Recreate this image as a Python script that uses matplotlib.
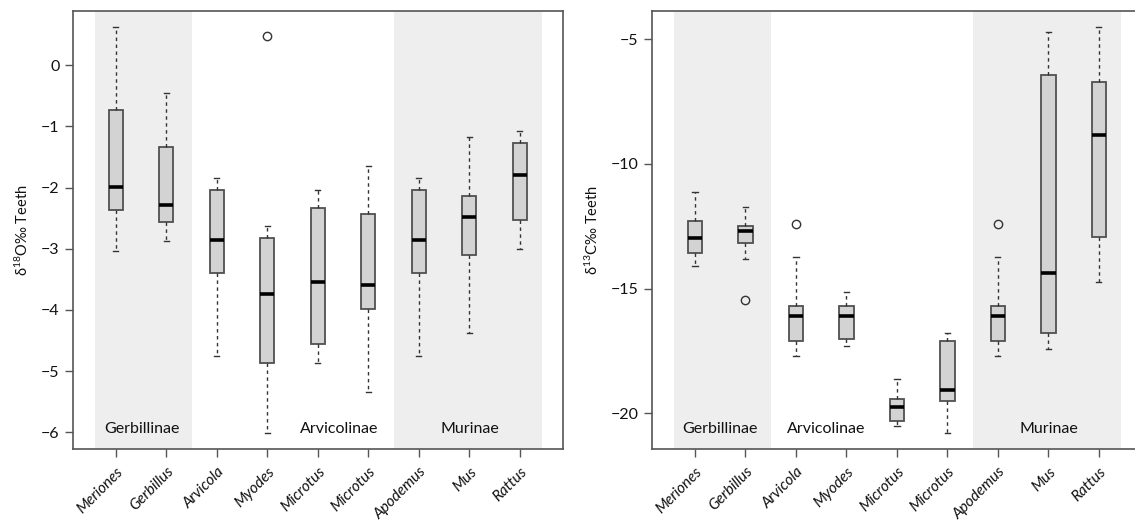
import matplotlib
matplotlib.use("Agg")
import matplotlib.pyplot as plt

plt.rcParams['font.family'] = ['Lato', 'DejaVu Sans']
plt.rcParams['mathtext.fontset'] = 'custom'
plt.rcParams['mathtext.rm'] = 'Lato'

genera = ['Meriones', 'Gerbillus', 'Arvicola', 'Myodes', 'Microtus',
          'Microtus', 'Apodemus', 'Mus', 'Rattus']

# delta 18O (teeth)
o_whislo = [-3.04, -2.88, -4.76, -6.02, -4.86, -5.34, -4.76, -4.37, -3.01]
o_q1 = [-2.36, -2.57, -3.40, -4.86, -4.56, -3.99, -3.40, -3.11, -2.53]
o_med = [-1.99, -2.29, -2.86, -3.74, -3.55, -3.59, -2.86, -2.48, -1.80]
o_q3 = [-0.74, -1.33, -2.04, -2.82, -2.34, -2.43, -2.04, -2.14, -1.27]
o_whishi = [0.63, -0.45, -1.85, -2.63, -2.04, -1.65, -1.85, -1.17, -1.08]
o_fliers = [[], [], [], [0.48], [], [], [], [], []]

# delta 13C (teeth)
c_whislo = [-14.08, -13.82, -17.70, -17.29, -20.49, -20.80, -17.70, -17.41, -14.72]
c_q1 = [-13.59, -13.19, -17.11, -17.01, -20.31, -19.52, -17.11, -16.79, -12.92]
c_med = [-12.96, -12.69, -16.11, -16.11, -19.76, -19.06, -16.11, -14.36, -8.86]
c_q3 = [-12.27, -12.49, -15.71, -15.71, -19.41, -17.11, -15.71, -6.42, -6.71]
c_whishi = [-11.13, -11.73, -13.72, -15.12, -18.61, -16.79, -13.72, -4.72, -4.52]
c_fliers = [[], [-15.46], [-12.41], [], [], [], [-12.41], [], []]

groups = ['Gerbillinae', 'Arvicolinae', 'Murinae']

fig = plt.figure(figsize=(11.35, 5.2), dpi=100)
ax1 = fig.add_axes([0.064, 0.136, 0.432, 0.843])
ax2 = fig.add_axes([0.5742, 0.136, 0.432, 0.843])

def panel(ax, whislo, q1, med, q3, whishi, fliers, ylim, yticks, ylabel, label_pos):
    stats = []
    for i in range(len(genera)):
        stats.append(dict(whislo=whislo[i], q1=q1[i], med=med[i], q3=q3[i],
                          whishi=whishi[i], fliers=fliers[i], label=genera[i]))
    ax.axvspan(0.58, 2.5, color='#EEEEEE', lw=0, zorder=0)
    ax.axvspan(6.5, 9.43, color='#EEEEEE', lw=0, zorder=0)
    pos = list(range(1, len(genera) + 1))
    ax.bxp(stats, positions=pos, widths=0.28, patch_artist=True, showfliers=True,
           capwidths=0.1,
           boxprops=dict(facecolor='#D3D3D3', edgecolor='#505050', lw=1.3),
           medianprops=dict(color='black', lw=2.6, solid_capstyle='butt'),
           whiskerprops=dict(color='#333333', lw=1.0, ls=(0, (2.5, 2.5))),
           capprops=dict(color='#333333', lw=1.0),
           flierprops=dict(marker='o', markersize=6, markerfacecolor='none',
                           markeredgecolor='#333333', markeredgewidth=1.0))
    ax.set_xlim(0.143, 9.853)
    ax.set_ylim(*ylim)
    ax.set_yticks(yticks)
    ax.set_yticklabels(['\u2212' + str(abs(t)) if t < 0 else str(t) for t in yticks])
    ax.set_xticks(pos)
    ax.set_xticklabels(genera, rotation=45, ha='right', va='top',
                       rotation_mode='anchor', style='italic', fontsize=11)
    ax.tick_params(axis='both', direction='out', length=6, width=1.0,
                   color='#555555', labelcolor='#111111')
    ax.tick_params(axis='y', labelsize=11.5, pad=3.5)
    ax.tick_params(axis='x', pad=5)
    for s in ax.spines.values():
        s.set_color('#555555')
        s.set_linewidth(1.2)
    ax.set_ylabel(ylabel, fontsize=10.5, color='#111111', labelpad=7)
    for g, (x, y) in zip(groups, label_pos):
        ax.text(x, y, g, ha='center', va='center', fontsize=11.5, color='#111111')

panel(ax1, o_whislo, o_q1, o_med, o_q3, o_whishi, o_fliers,
      (-6.278, 0.887), [-6, -5, -4, -3, -2, -1, 0],
      r'δ$\mathregular{^{18}}$O‰ Teeth',
      [(1.51, -5.95), (5.43, -5.95), (8.0, -5.95)])
panel(ax2, c_whislo, c_q1, c_med, c_q3, c_whishi, c_fliers,
      (-21.44, -3.866), [-20, -15, -10, -5],
      r'δ$\mathregular{^{13}}$C‰ Teeth',
      [(1.50, -20.63), (3.59, -20.63), (8.0, -20.63)])

fig.savefig('out.png', dpi=100)
